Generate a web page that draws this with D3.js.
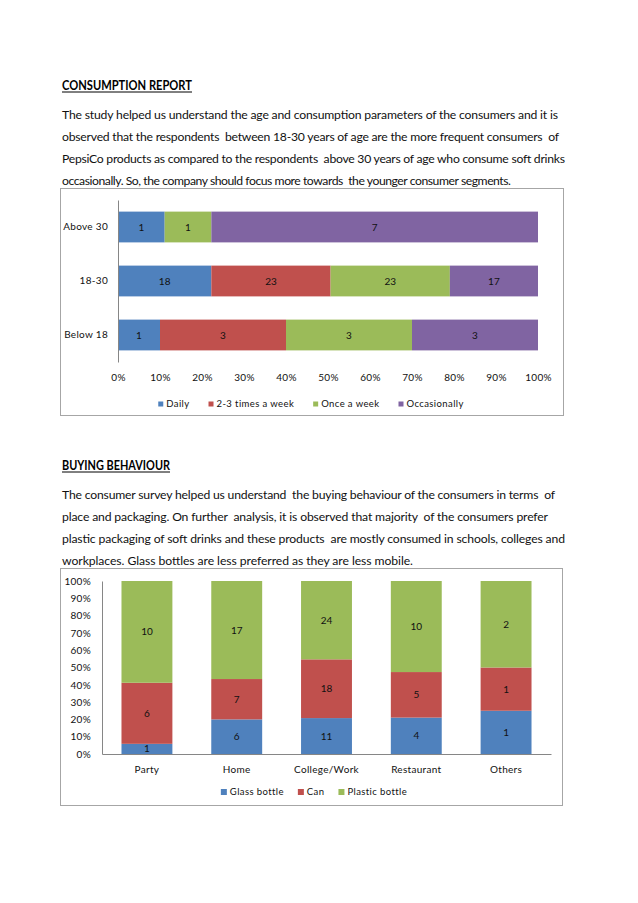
<!DOCTYPE html>
<html lang="en">
<head>
  <meta charset="UTF-8">
  <title>Consumption report</title>
  <style>
    html, body { margin: 0; padding: 0; background: #fff; }
    svg { font-family: Lato, "Open Sans", sans-serif; display: block; }
    .para { font-size: 12.2px; fill: #111; }
    .head { font-size: 12.5px; font-weight: bold; fill: #000; }
    .axis text { font-family: Lato, "Open Sans", sans-serif; font-size: 10px; fill: #111; letter-spacing: 0.3px; }
    .lbl { font-size: 10px; fill: #111; }
    .leg { font-size: 9.5px; fill: #111; letter-spacing: 0.4px; }
  </style>
</head>
<body>
  <div id="page"></div>
  <script src="https://d3js.org/d3.v7.min.js"></script>
  <script>
    // ---- data: consumption frequency by age ----
    const ageGroups = ['Above 30', '18-30', 'Below 18'];
    const freqKeys = ['Daily', '2-3 times a week', 'Once a week', 'Occasionally'];
    const daily = [1, 18, 1];
    const twoThree = [0, 23, 3];
    const onceWeek = [1, 23, 3];
    const occasionally = [7, 17, 3];

    // ---- data: packaging by place ----
    const places = ['Party', 'Home', 'College/Work', 'Restaurant', 'Others'];
    const packKeys = ['Glass bottle', 'Can', 'Plastic bottle'];
    const glass = [1, 6, 11, 4, 1];
    const can = [6, 7, 18, 5, 1];
    const plastic = [10, 17, 24, 10, 2];

    const pctTicks = [0, 0.1, 0.2, 0.3, 0.4, 0.5, 0.6, 0.7, 0.8, 0.9, 1];

    const colors1 = ['#4F81BD', '#C0504D', '#9BBB59', '#8064A2'];
    const colors2 = ['#4F81BD', '#C0504D', '#9BBB59'];

    // text of the page
    const heading1 = 'CONSUMPTION REPORT';
    const para1 = [
      'The study helped us understand the age and consumption parameters of the consumers and it is',
      'observed that the respondents  between 18-30 years of age are the more frequent consumers  of',
      'PepsiCo products as compared to the respondents  above 30 years of age who consume soft drinks',
      'occasionally. So, the company should focus more towards  the younger consumer segments.'
    ];
    const para1Width = [496, 497, 503, 449];
    const heading2 = 'BUYING BEHAVIOUR';
    const para2 = [
      'The consumer survey helped us understand  the buying behaviour of the consumers in terms  of',
      'place and packaging. On further  analysis, it is observed that majority  of the consumers prefer',
      'plastic packaging of soft drinks and these products  are mostly consumed in schools, colleges and',
      'workplaces. Glass bottles are less preferred as they are less mobile.'
    ];
    const para2Width = [493, 486, 503, 351];

    const W = 638, H = 903;
    const svg = d3.select('#page').append('svg')
      .attr('width', W).attr('height', H);

    // ---- text blocks ----
    function heading(txt, x, y, w) {
      svg.append('text').attr('class', 'head')
        .attr('x', x).attr('y', y)
        .attr('textLength', w).attr('lengthAdjust', 'spacingAndGlyphs')
        .text(txt);
      svg.append('line')
        .attr('x1', x).attr('x2', x + w)
        .attr('y1', y + 2.5).attr('y2', y + 2.5)
        .attr('stroke', '#000').attr('stroke-width', 1);
    }
    function paragraph(lines, widths, x, y0, lh) {
      svg.selectAll(null).data(lines).enter().append('text')
        .attr('class', 'para')
        .attr('x', x)
        .attr('y', (d, i) => y0 + i * lh)
        .attr('textLength', (d, i) => widths[i])
        .attr('lengthAdjust', 'spacing')
        .attr('xml:space', 'preserve')
        .text(d => d);
    }

    heading(heading1, 62, 89.5, 130);
    paragraph(para1, para1Width, 62, 119, 22);
    heading(heading2, 62, 469.5, 108);
    paragraph(para2, para2Width, 62, 498.5, 22);

    // legend helper, centred on cx
    function legend(keys, cols, cx, cy, sq, gap) {
      const g = svg.append('g');
      const items = g.selectAll('g').data(keys).enter().append('g');
      items.append('rect')
        .attr('width', sq).attr('height', sq)
        .attr('y', cy - sq / 2)
        .attr('fill', (d, i) => cols[i]);
      items.append('text').attr('class', 'leg')
        .attr('x', sq + 3).attr('y', cy + 3.4)
        .text(d => d);
      let x = 0;
      items.each(function () {
        d3.select(this).attr('transform', `translate(${x},0)`);
        x += this.getBBox().width + gap;
      });
      const total = x - gap;
      g.attr('transform', `translate(${cx - total / 2},0)`);
    }

    // ---- chart 1: 100% stacked horizontal bars ----
    const box1 = { x: 60.5, y: 188.5, w: 503, h: 227 };
    svg.append('rect')
      .attr('x', box1.x).attr('y', box1.y).attr('width', box1.w).attr('height', box1.h)
      .attr('fill', '#fff').attr('stroke', '#a6a6a6');

    const rows1 = ageGroups.map((a, i) => ({
      group: a,
      'Daily': daily[i],
      '2-3 times a week': twoThree[i],
      'Once a week': onceWeek[i],
      'Occasionally': occasionally[i]
    }));
    const stack1 = d3.stack().keys(freqKeys).offset(d3.stackOffsetExpand)(rows1);

    const x1 = d3.scaleLinear().domain([0, 1]).range([118, 538]);
    const y1 = d3.scaleBand().domain(ageGroups).range([200, 362])
      .paddingInner(0.43).paddingOuter(0.215);

    const layers1 = svg.selectAll('g.layer1').data(stack1).enter().append('g')
      .attr('class', 'layer1')
      .attr('fill', (d, i) => colors1[i]);
    layers1.selectAll('rect').data(d => d).enter().append('rect')
      .attr('x', d => x1(d[0]))
      .attr('y', d => y1(d.data.group))
      .attr('width', d => x1(d[1]) - x1(d[0]))
      .attr('height', y1.bandwidth());

    stack1.forEach((layer, k) => {
      svg.selectAll(null).data(layer.filter(d => d.data[layer.key] > 0)).enter().append('text')
        .attr('class', 'lbl')
        .attr('text-anchor', 'middle')
        .attr('x', d => x1((d[0] + d[1]) / 2))
        .attr('y', d => y1(d.data.group) + y1.bandwidth() / 2 + 3.5)
        .text(d => d.data[layer.key]);
    });

    const xAxis1 = svg.append('g').attr('class', 'axis')
      .attr('transform', 'translate(0,362)')
      .call(d3.axisBottom(x1).tickValues(pctTicks).tickFormat(d3.format('.0%')).tickSize(0).tickPadding(12));
    xAxis1.select('.domain').remove();

    const yAxis1 = svg.append('g').attr('class', 'axis')
      .attr('transform', 'translate(118,0)')
      .call(d3.axisLeft(y1).tickSize(0).tickPadding(10));
    yAxis1.select('.domain').attr('stroke', '#868686');

    legend(freqKeys, colors1, 311, 404, 5, 19);

    // ---- chart 2: 100% stacked columns ----
    const box2 = { x: 60.5, y: 568.5, w: 502, h: 237 };
    svg.append('rect')
      .attr('x', box2.x).attr('y', box2.y).attr('width', box2.w).attr('height', box2.h)
      .attr('fill', '#fff').attr('stroke', '#a6a6a6');

    const rows2 = places.map((p, i) => ({
      place: p,
      'Glass bottle': glass[i],
      'Can': can[i],
      'Plastic bottle': plastic[i]
    }));
    const stack2 = d3.stack().keys(packKeys).offset(d3.stackOffsetExpand)(rows2);

    const x2 = d3.scaleBand().domain(places).range([102, 551])
      .paddingInner(0.433).paddingOuter(0.217);
    const y2 = d3.scaleLinear().domain([0, 1]).range([754, 581]);

    const layers2 = svg.selectAll('g.layer2').data(stack2).enter().append('g')
      .attr('class', 'layer2')
      .attr('fill', (d, i) => colors2[i]);
    layers2.selectAll('rect').data(d => d).enter().append('rect')
      .attr('x', d => x2(d.data.place))
      .attr('y', d => y2(d[1]))
      .attr('width', x2.bandwidth())
      .attr('height', d => y2(d[0]) - y2(d[1]));

    stack2.forEach(layer => {
      svg.selectAll(null).data(layer).enter().append('text')
        .attr('class', 'lbl')
        .attr('text-anchor', 'middle')
        .attr('x', d => x2(d.data.place) + x2.bandwidth() / 2)
        .attr('y', d => y2((d[0] + d[1]) / 2) + 3.5)
        .text(d => d.data[layer.key]);
    });

    const yAxis2 = svg.append('g').attr('class', 'axis')
      .attr('transform', 'translate(102,0)')
      .call(d3.axisLeft(y2).tickValues(pctTicks).tickFormat(d3.format('.0%')).tickSize(0).tickPadding(11));
    yAxis2.select('.domain').attr('stroke', '#868686');

    const xAxis2 = svg.append('g').attr('class', 'axis')
      .attr('transform', 'translate(0,754)')
      .call(d3.axisBottom(x2).tickSize(0).tickPadding(12));
    xAxis2.select('.domain').attr('stroke', '#868686');

    legend(packKeys, colors2, 314, 792, 6, 14);
  </script>
</body>
</html>
